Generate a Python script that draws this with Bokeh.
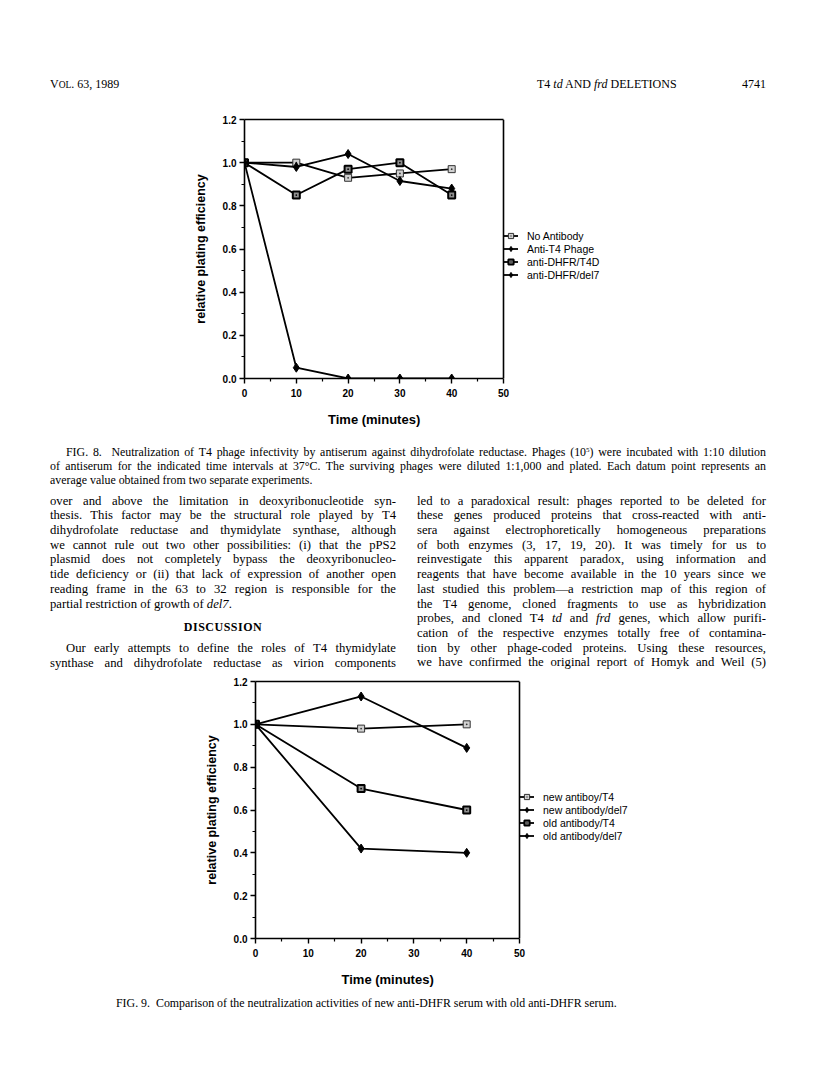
from bokeh.plotting import figure
from bokeh.models import (Div, Legend, LegendItem, FixedTicker, PrintfTickFormatter,
                          Range1d, Spacer, Span, LinearAxis, Title)
from bokeh.layouts import column, row
from bokeh.embed import file_html
from bokeh.resources import INLINE

# ---------------- data ----------------
times1 = [0, 10, 20, 30, 40]
no_antibody = [1.0, 1.0, 0.93, 0.95, 0.97]
anti_t4_phage = [1.0, 0.98, 1.04, 0.915, 0.88]
anti_dhfr_t4d = [1.0, 0.85, 0.97, 1.0, 0.85]
anti_dhfr_del7 = [1.0, 0.05, 0.0, 0.0, 0.0]
labels1 = ["No Antibody", "Anti-T4 Phage", "anti-DHFR/T4D", "anti-DHFR/del7"]

times2 = [0, 20, 40]
new_antibody_t4 = [1.0, 0.98, 1.0]
new_antibody_del7 = [1.0, 1.13, 0.89]
old_antibody_t4 = [1.0, 0.70, 0.60]
old_antibody_del7 = [1.0, 0.42, 0.40]
labels2 = ["new antiboy/T4", "new antibody/del7", "old antibody/T4", "old antibody/del7"]

x_ticks = [0, 10, 20, 30, 40, 50]
x_minor = [5, 15, 25, 35, 45]
y_ticks = [0.0, 0.2, 0.4, 0.6, 0.8, 1.0, 1.2]
y_minor = [0.1, 0.3, 0.5, 0.7, 0.9, 1.1]
X_MAX = 50
Y_MAX = 1.2

SANS = "Liberation Sans"
SERIF = "Liberation Serif"

LIGHT_SQ = dict(marker="square_dot", size=7, fill_color="#d0d0d0", line_color="#333333", line_width=1)
DIAMOND = dict(marker="diamond", size=9, fill_color="black", line_color="black", line_width=1)
DARK_SQ = dict(marker="square_dot", size=7, fill_color="#909090", line_color="black", line_width=2)
styles = [LIGHT_SQ, DIAMOND, DARK_SQ, DIAMOND]

B_LEFT = 70
B_RIGHT = 10
F_W = 420      # frame width (box + legend area)


def make_chart(times, series, labels, b_top, f_h, b_bottom, box_w, leg_y):
    x_end = X_MAX * F_W / box_w
    p = figure(width=B_LEFT + F_W + B_RIGHT, height=b_top + f_h + b_bottom,
               output_backend="svg", toolbar_location=None,
               x_range=Range1d(0, x_end), y_range=Range1d(0, Y_MAX),
               min_border_left=B_LEFT, min_border_right=B_RIGHT,
               min_border_top=b_top, min_border_bottom=b_bottom)
    p.background_fill_color = "white"
    p.border_fill_color = "white"
    p.outline_line_color = None
    p.xgrid.visible = False
    p.ygrid.visible = False

    xa = p.xaxis[0]
    ya = p.yaxis[0]
    xa.bounds = (0, X_MAX)
    xa.ticker = FixedTicker(ticks=x_ticks, minor_ticks=x_minor)
    ya.ticker = FixedTicker(ticks=y_ticks, minor_ticks=y_minor)
    ya.formatter = PrintfTickFormatter(format="%.1f")
    for ax in (xa, ya):
        ax.axis_line_width = 1.6
        ax.axis_line_color = "black"
        ax.major_tick_line_color = "black"
        ax.minor_tick_line_color = "black"
        ax.major_tick_line_width = 1.4
        ax.minor_tick_line_width = 1.2
        ax.major_tick_in = 0
        ax.major_tick_out = 5
        ax.minor_tick_in = 0
        ax.minor_tick_out = 3
        ax.major_label_text_font = SANS
        ax.major_label_text_font_style = "bold"
        ax.major_label_text_font_size = "10px"
        ax.major_label_text_color = "black"
        ax.axis_label_text_font = SANS
        ax.axis_label_text_font_style = "bold"
        ax.axis_label_text_color = "black"
    xa.major_label_standoff = 5
    ya.axis_label = "relative plating efficiency"
    ya.axis_label_text_font_size = "12.5px"
    ya.major_label_standoff = 3
    ya.axis_label_standoff = 12

    # top and right edges of the plot box
    top_ax = LinearAxis(ticker=FixedTicker(ticks=[]), bounds=(0, X_MAX),
                        axis_line_width=1.6, axis_line_color="black",
                        major_tick_out=0, minor_tick_out=0, major_tick_in=0, minor_tick_in=0)
    p.add_layout(top_ax, "above")
    p.add_layout(Span(location=X_MAX, dimension="height", line_color="black", line_width=1.6))

    # x-axis title centred under the box
    p.add_layout(Title(text="Time (minutes)", align="left", offset=(box_w - 92) / 2,
                       text_font=SANS, text_font_style="bold", text_font_size="13px",
                       text_color="black", standoff=21), "below")

    items = []
    for vals, lab, st in zip(series, labels, styles):
        lr = p.line(times, vals, line_color="black", line_width=1.8)
        sr = p.scatter(times, vals, **st)
        items.append(LegendItem(label=lab, renderers=[lr, sr]))
    leg = Legend(items=items, location=(box_w, leg_y), padding=0, margin=0,
                 spacing=0, glyph_width=15, glyph_height=13, label_height=13,
                 label_standoff=9, border_line_alpha=0, background_fill_alpha=0,
                 label_text_font=SANS, label_text_font_size="10.5px",
                 label_text_color="black")
    p.add_layout(leg)
    return p


fig1 = make_chart(times1, [no_antibody, anti_t4_phage, anti_dhfr_t4d, anti_dhfr_del7],
                  labels1, b_top=19, f_h=259, b_bottom=62, box_w=259, leg_y=97)
fig2 = make_chart(times2, [new_antibody_t4, new_antibody_del7, old_antibody_t4, old_antibody_del7],
                  labels2, b_top=9, f_h=257, b_bottom=60, box_w=264, leg_y=96)


# ---------------- page text ----------------
def line(text, left, top, width=None, justify=True, size=12.7, extra="", lh=15, right=None):
    st = f"position:absolute;top:{top}px;line-height:{lh}px;font-size:{size}px;white-space:nowrap;"
    if right is not None:
        st += f"right:{right}px;"
    else:
        st += f"left:{left}px;"
    if width is not None:
        st += f"width:{width}px;"
    if justify:
        st += "text-align:justify;text-align-last:justify;"
    st += extra
    return f'<div style="{st}">{text}</div>'


def page_div(lines, height):
    html = (f'<div style="position:relative;width:816px;height:{height}px;'
            f'font-family:\'{SERIF}\';color:black;">' + "".join(lines) + "</div>")
    return Div(text=html, width=816, height=height, styles={"margin": "0", "padding": "0"})


hdr = page_div([
    line('V<span style="font-size:9.5px">OL</span>. 63, 1989', 50, 76.5, justify=False, size=12),
    line('T4 <i>td</i> AND <i>frd</i> DELETIONS', 537, 76.5, justify=False, size=12),
    line('4741', None, 76.5, justify=False, size=12, right=50),
], 100)

SUP5 = '<span style="font-size:7px;position:relative;top:-4px;line-height:0">5</span>'
cap8 = [
    f'FIG. 8. &nbsp;Neutralization of T4 phage infectivity by antiserum against dihydrofolate reductase. Phages (10{SUP5}) were incubated with 1:10 dilution',
    'of antiserum for the indicated time intervals at 37°C. The surviving phages were diluted 1:1,000 and plated. Each datum point represents an',
    'average value obtained from two separate experiments.',
]
left_col = [
    'over and above the limitation in deoxyribonucleotide syn-',
    'thesis. This factor may be the structural role played by T4',
    'dihydrofolate reductase and thymidylate synthase, although',
    'we cannot rule out two other possibilities: (i) that the pPS2',
    'plasmid does not completely bypass the deoxyribonucleo-',
    'tide deficiency or (ii) that lack of expression of another open',
    'reading frame in the 63 to 32 region is responsible for the',
    'partial restriction of growth of <i>del7</i>.',
]
left_col2 = [
    'Our early attempts to define the roles of T4 thymidylate',
    'synthase and dihydrofolate reductase as virion components',
]
right_col = [
    'led to a paradoxical result: phages reported to be deleted for',
    'these genes produced proteins that cross-reacted with anti-',
    'sera against electrophoretically homogeneous preparations',
    'of both enzymes (3, 17, 19, 20). It was timely for us to',
    'reinvestigate this apparent paradox, using information and',
    'reagents that have become available in the 10 years since we',
    'last studied this problem\u2014a restriction map of this region of',
    'the T4 genome, cloned fragments to use as hybridization',
    'probes, and cloned T4 <i>td</i> and <i>frd</i> genes, which allow purifi-',
    'cation of the respective enzymes totally free of contamina-',
    'tion by other phage-coded proteins. Using these resources,',
    'we have confirmed the original report of Homyk and Weil (5)',
]

CAP_SIZE = 11.9
mid_lines = []
mid_lines.append(line(cap8[0], 66, 5, width=700, size=CAP_SIZE, lh=14))
mid_lines.append(line(cap8[1], 50, 19, width=716, size=CAP_SIZE, lh=14))
mid_lines.append(line(cap8[2], 50, 33, justify=False, size=CAP_SIZE, lh=14))
pitch = 14.72
for i, t in enumerate(left_col):
    mid_lines.append(line(t, 50, 53.5 + pitch * i, width=346, justify=(i < len(left_col) - 1)))
mid_lines.append(line('DISCUSSION', 50, 179.5, width=346, justify=False,
                      extra="text-align:center;font-weight:bold;letter-spacing:0.5px;", size=12))
mid_lines.append(line(left_col2[0], 66, 200.5, width=330))
mid_lines.append(line(left_col2[1], 50, 215.5, width=346))
for i, t in enumerate(right_col):
    mid_lines.append(line(t, 417, 53.5 + pitch * i, width=349))
mid = page_div(mid_lines, 232)

cap = page_div([
    line('FIG. 9. &nbsp;Comparison of the neutralization activities of new anti-DHFR serum with old anti-DHFR serum.',
         116, -2, justify=False, size=CAP_SIZE, lh=14),
], 66)

row1 = row(Spacer(width=244 - B_LEFT, height=fig1.height), fig1, spacing=0)
row2 = row(Spacer(width=255 - B_LEFT, height=fig2.height), fig2, spacing=0)

layout = column(hdr, row1, mid, row2, cap, spacing=0)

open("out.html", "w").write(file_html(layout, INLINE))
